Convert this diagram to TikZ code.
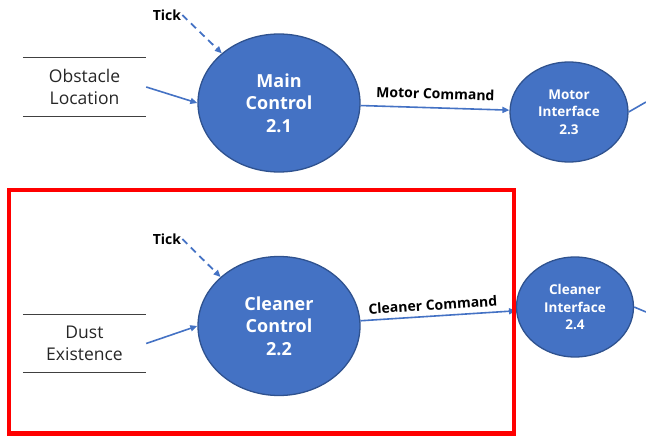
\documentclass[tikz,border=0pt]{standalone}
\usepackage{fontspec}
\setmainfont{Open Sans}
\usetikzlibrary{shapes.geometric,arrows.meta}
\definecolor{pblue}{HTML}{4472C4}
\definecolor{pborder}{HTML}{2F528F}
\definecolor{storeline}{HTML}{404040}
\begin{document}
\begin{tikzpicture}[x=1pt,y=-1pt,
 proc/.style={ellipse,draw=pborder,line width=1.3pt,fill=pblue,text=white,
   font=\bfseries\fontsize{18}{22.5}\selectfont,align=center,inner sep=0pt},
 iface/.style={proc,font=\bfseries\fontsize{13.5}{17.5}\selectfont},
 store/.style={minimum width=123pt,minimum height=58pt,align=center,
   font=\fontsize{17.5}{21.5}\selectfont,inner sep=0pt,text=black!85},
 storeedge/.style={draw=storeline,line width=0.8pt},
 flow/.style={draw=pblue,line width=1.6pt,-{Triangle[length=7pt,width=6pt]}},
 plainflow/.style={draw=pblue,line width=1.6pt},
 tickflow/.style={flow,line width=1.8pt,dash pattern=on 7pt off 5pt},
 lbl/.style={font=\bfseries\fontsize{14}{16}\selectfont,inner sep=1pt},
]
\useasboundingbox (0,0) rectangle (646,436);
% processes
\node[proc,minimum width=162pt,minimum height=138pt] (main) at (279,103) {Main\\Control\\2.1};
\node[iface,minimum width=118pt,minimum height=100pt] (motor) at (569,112) {Motor\\Interface\\2.3};
\node[proc,minimum width=162pt,minimum height=139pt] (clean) at (279,326) {Cleaner\\Control\\2.2};
\node[iface,minimum width=117pt,minimum height=100pt] (cif) at (575,307) {Cleaner\\Interface\\2.4};
% stores
\node[store] (obs) at (84.5,87) {Obstacle\\Location};
\draw[storeedge] (obs.north west) -- (obs.north east);
\draw[storeedge] (obs.south west) -- (obs.south east);
\node[store,minimum height=57pt] (dust) at (84.5,343.5) {Dust\\Existence};
\draw[storeedge] (dust.north west) -- (dust.north east);
\draw[storeedge] (dust.south west) -- (dust.south east);
% tick labels
\node[lbl] (t1) at (167,15) {Tick};
\node[lbl] (t2) at (167,239) {Tick};
% flows
\draw[flow] (obs.east) -- (main.west);
\draw[flow] (dust.east) -- (clean.west);
\draw[tickflow] (t1.east) -- (main.139);
\draw[tickflow] (t2.east) -- (clean.140);
\draw[flow] (main) -- node[lbl,sloped,above=7pt] {Motor Command} (motor);
\draw[flow] (clean) -- node[lbl,sloped,above=4pt,pos=0.47] {Cleaner Command} (cif);
\coordinate (mout) at (646,102);
\coordinate (cout) at (646,312);
\draw[plainflow] (motor.east) -- (mout);
\draw[plainflow] (cif.east) -- (cout);
% highlight box
\draw[red,line width=4.5pt] (9,190) rectangle (514,433.5);
\end{tikzpicture}
\end{document}
